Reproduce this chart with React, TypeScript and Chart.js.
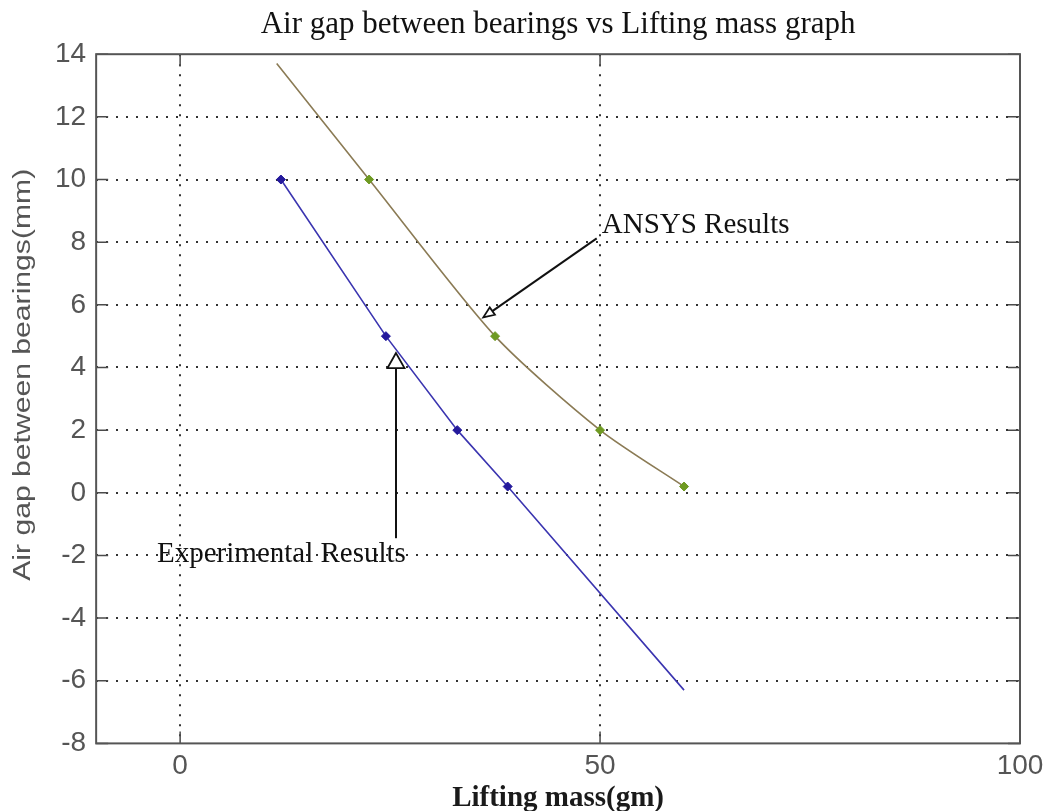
import React, { useEffect, useRef } from "react";
import { Chart, registerables } from "chart.js";

Chart.register(...registerables);

// ---- data ----
const xTickValues = [0, 50, 100];
const yTickValues = [-8, -6, -4, -2, 0, 2, 4, 6, 8, 10, 12, 14];

const ansysMass = [11.5, 22.5, 37.5, 50, 60];
const ansysGap = [13.7, 10, 5, 2, 0.2];
const ansysMarked = [false, true, true, true, true];

const expMass = [12, 24.5, 33, 39, 60];
const expGap = [10, 5, 2, 0.2, -6.3];
const expMarked = [true, true, true, true, false];

const titleText = "Air gap between bearings vs Lifting mass graph";
const xTitleText = "Lifting mass(gm)";
const yTitleText = "Air gap between bearings(mm)";

// annotations (data coordinates)
const annotations = [
  { text: "ANSYS Results", tx: 50.2, ty: 8.28, from: [49.6, 8.12], to: [36.1, 5.6], head: [11, 9] },
  { text: "Experimental Results", tx: -2.75, ty: -2.22, from: [25.7, -1.45], to: [25.7, 4.46], head: [15, 17] },
];

const framePlugin = {
  id: "matlabFrame",
  beforeDraw(chart: any) {
    const { ctx, width, height } = chart;
    ctx.save();
    ctx.fillStyle = "#ffffff";
    ctx.fillRect(0, 0, width, height);
    ctx.restore();
  },
  afterDraw(chart: any) {
    const { ctx, chartArea, scales } = chart;
    const { left, right, top, bottom } = chartArea;
    const x = scales.x;
    const y = scales.y;
    ctx.save();
    ctx.setLineDash([]);
    // inner ticks
    ctx.strokeStyle = "#4a4a4a";
    ctx.lineWidth = 1.5;
    const tl = 12;
    ctx.beginPath();
    x.ticks.forEach((t: any) => {
      const px = x.getPixelForValue(t.value);
      ctx.moveTo(px, bottom);
      ctx.lineTo(px, bottom - tl);
      ctx.moveTo(px, top);
      ctx.lineTo(px, top + tl);
    });
    y.ticks.forEach((t: any) => {
      const py = y.getPixelForValue(t.value);
      ctx.moveTo(left, py);
      ctx.lineTo(left + tl, py);
      ctx.moveTo(right, py);
      ctx.lineTo(right - tl, py);
    });
    ctx.stroke();
    // box
    ctx.strokeStyle = "#555555";
    ctx.lineWidth = 2;
    ctx.strokeRect(left, top, right - left, bottom - top);

    // axis titles
    ctx.fillStyle = "#1a1a1a";
    ctx.font = 'bold 29px "Liberation Serif"';
    ctx.textAlign = "center";
    ctx.textBaseline = "alphabetic";
    ctx.fillText(xTitleText, (left + right) / 2, 806);

    ctx.save();
    ctx.font = '23px "Liberation Sans"';
    ctx.fillStyle = "#555555";
    const w = ctx.measureText(yTitleText).width;
    ctx.translate(24, (top + bottom) / 2 - 24);
    ctx.rotate(-Math.PI / 2);
    ctx.scale(412 / w, 1);
    ctx.textAlign = "center";
    ctx.textBaseline = "middle";
    ctx.fillText(yTitleText, 0, 0);
    ctx.restore();

    // annotations
    annotations.forEach((a) => {
      const sx = x.getPixelForValue(a.from[0]);
      const sy = y.getPixelForValue(a.from[1]);
      const ex = x.getPixelForValue(a.to[0]);
      const ey = y.getPixelForValue(a.to[1]);
      const ang = Math.atan2(ey - sy, ex - sx);
      const L = a.head[0];
      const W = a.head[1] / 2;
      const bx = ex - L * Math.cos(ang);
      const by = ey - L * Math.sin(ang);
      ctx.strokeStyle = "#111111";
      ctx.lineWidth = 2;
      ctx.beginPath();
      ctx.moveTo(sx, sy);
      ctx.lineTo(bx, by);
      ctx.stroke();
      ctx.beginPath();
      ctx.moveTo(ex, ey);
      ctx.lineTo(bx + W * Math.sin(ang), by - W * Math.cos(ang));
      ctx.lineTo(bx - W * Math.sin(ang), by + W * Math.cos(ang));
      ctx.closePath();
      ctx.fillStyle = "#ffffff";
      ctx.fill();
      ctx.lineWidth = 1.8;
      ctx.stroke();

      ctx.fillStyle = "#111111";
      ctx.font = '29px "Liberation Serif"';
      ctx.textAlign = "left";
      ctx.textBaseline = "alphabetic";
      ctx.fillText(a.text, x.getPixelForValue(a.tx), y.getPixelForValue(a.ty));
    });
    ctx.restore();
  },
};

export default function App() {
  const ref = useRef<HTMLCanvasElement | null>(null);

  useEffect(() => {
    if (!ref.current) return;
    const gridColor = (c: any) => {
      const v = c.tick ? c.tick.value : null;
      if (v === -8 || v === 14 || v === 100 || v === -10) return "rgba(0,0,0,0)";
      return "#333333";
    };
    const chart = new Chart(ref.current, {
      type: "scatter",
      data: {
        datasets: [
          {
            label: "ANSYS Results",
            data: ansysMass.map((m, i) => ({ x: m, y: ansysGap[i] })),
            showLine: true,
            borderColor: "#8b7b55",
            borderWidth: 1.6,
            tension: 0.25,
            pointStyle: "rectRot",
            pointRadius: ansysMarked.map((m) => (m ? 4.5 : 0)),
            pointBackgroundColor: "#6f9a22",
            pointBorderColor: "#6f9a22",
            pointBorderWidth: 1,
          },
          {
            label: "Experimental Results",
            data: expMass.map((m, i) => ({ x: m, y: expGap[i] })),
            showLine: true,
            borderColor: "#3b35b0",
            borderWidth: 1.6,
            tension: 0,
            pointStyle: "rectRot",
            pointRadius: expMarked.map((m) => (m ? 4.5 : 0)),
            pointBackgroundColor: "#24199c",
            pointBorderColor: "#24199c",
            pointBorderWidth: 1,
          },
        ],
      },
      options: {
        animation: false,
        responsive: false,
        devicePixelRatio: 1,
        layout: { padding: { left: 45, right: 31, top: 0, bottom: 22 } },
        plugins: {
          legend: { display: false },
          tooltip: { enabled: false },
          title: {
            display: true,
            fullSize: false,
            text: titleText,
            color: "#111111",
            font: { family: '"Liberation Serif"', size: 31, weight: "normal" },
            padding: { top: 6, bottom: 11 },
          },
        },
        scales: {
          x: {
            type: "linear",
            min: -10,
            max: 100,
            afterBuildTicks: (axis: any) => {
              axis.ticks = xTickValues.map((v) => ({ value: v }));
            },
            grid: { color: gridColor, lineWidth: 2, drawTicks: false },
            border: { display: false, dash: [2, 8] },
            ticks: {
              color: "#555555",
              font: { family: '"Liberation Sans"', size: 28 },
              padding: 6,
              maxRotation: 0,
            },
          },
          y: {
            type: "linear",
            min: -8,
            max: 14,
            afterBuildTicks: (axis: any) => {
              axis.ticks = yTickValues.map((v) => ({ value: v }));
            },
            grid: { color: gridColor, lineWidth: 2, drawTicks: false },
            border: { display: false, dash: [2, 8] },
            ticks: {
              color: "#555555",
              font: { family: '"Liberation Sans"', size: 28 },
              padding: 10,
            },
          },
        },
      },
      plugins: [framePlugin],
    });
    return () => chart.destroy();
  }, []);

  return (
    <div style={{ position: "absolute", left: 0, top: 0, width: 1051, height: 811, background: "#fff" }}>
      <canvas ref={ref} width={1051} height={811} style={{ display: "block", width: 1051, height: 811 }} />
    </div>
  );
}
